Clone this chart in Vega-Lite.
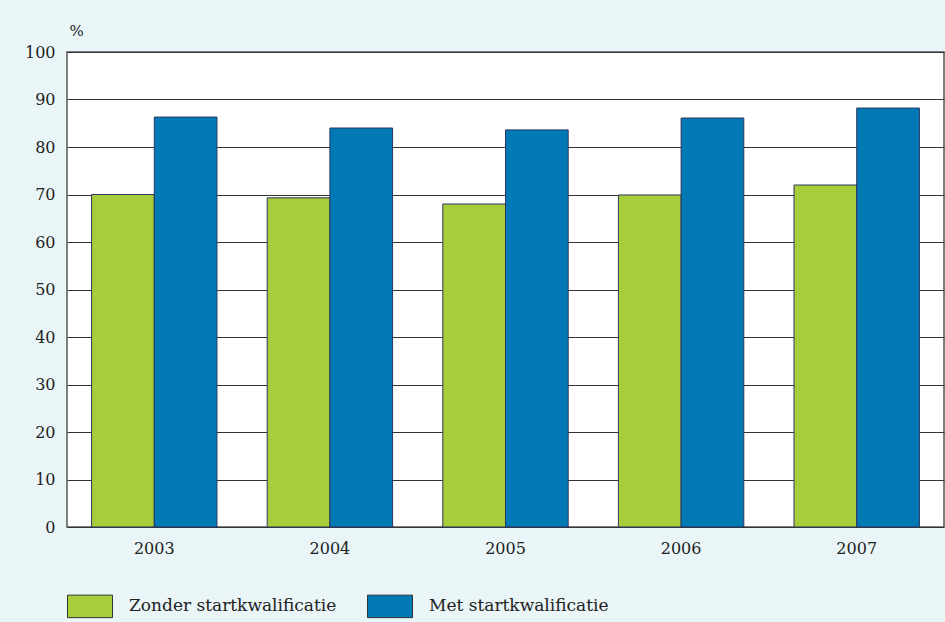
{
  "$schema": "https://vega.github.io/schema/vega-lite/v6.json",
  "autosize": {"type": "none"},
  "width": 877,
  "height": 475,
  "padding": {"left": 67, "top": 52, "right": 1, "bottom": 95},
  "background": "#e9f5f7",
  "data": {
    "values": [
      {"jaar": "2003", "groep": "Zonder startkwalificatie", "pct": 70.0},
      {"jaar": "2003", "groep": "Met startkwalificatie", "pct": 86.3},
      {"jaar": "2004", "groep": "Zonder startkwalificatie", "pct": 69.3},
      {"jaar": "2004", "groep": "Met startkwalificatie", "pct": 84.0},
      {"jaar": "2005", "groep": "Zonder startkwalificatie", "pct": 68.0},
      {"jaar": "2005", "groep": "Met startkwalificatie", "pct": 83.6},
      {"jaar": "2006", "groep": "Zonder startkwalificatie", "pct": 69.9},
      {"jaar": "2006", "groep": "Met startkwalificatie", "pct": 86.1},
      {"jaar": "2007", "groep": "Zonder startkwalificatie", "pct": 72.0},
      {"jaar": "2007", "groep": "Met startkwalificatie", "pct": 88.2}
    ]
  },
  "mark": {"type": "bar", "stroke": "#2f3560", "strokeWidth": 1},
  "encoding": {
    "x": {
      "field": "jaar", "type": "nominal",
      "scale": {"paddingInner": 0.286, "paddingOuter": 0.14},
      "axis": {"title": null, "labelAngle": 0, "ticks": false, "domain": false, "labelPadding": 13,
               "labelFont": "DejaVu Serif", "labelFontSize": 16, "labelColor": "#222"}
    },
    "xOffset": {"field": "groep", "type": "nominal", "sort": ["Zonder startkwalificatie", "Met startkwalificatie"],
                "scale": {"paddingInner": 0, "paddingOuter": 0}},
    "y": {
      "field": "pct", "type": "quantitative",
      "scale": {"domain": [0, 100], "nice": false},
      "axis": {"title": "%", "titleAngle": 0, "titleX": 2, "titleY": -22, "titleAlign": "left", "titleBaseline": "middle",
               "titleFont": "DejaVu Serif", "titleFontSize": 15, "titleFontWeight": "normal", "titleColor": "#222",
               "values": [0,10,20,30,40,50,60,70,80,90,100], "ticks": false, "domain": false, "labelPadding": 12,
               "labelFont": "DejaVu Serif", "labelFontSize": 16, "labelColor": "#222",
               "grid": true, "gridColor": "#333333", "gridWidth": 1}
    },
    "color": {
      "field": "groep", "type": "nominal",
      "sort": ["Zonder startkwalificatie", "Met startkwalificatie"],
      "scale": {"domain": ["Zonder startkwalificatie", "Met startkwalificatie"], "range": ["#a6cd3a", "#0079b5"]},
      "legend": {
        "title": null, "orient": "none", "direction": "horizontal", "legendX": 0, "legendY": 531,
        "symbolType": "M-1,-0.5H1V0.5H-1Z", "symbolSize": 2025, "symbolStrokeColor": "#333", "symbolStrokeWidth": 1,
        "symbolOpacity": 1, "labelOffset": 16, "columnPadding": 28,
        "labelFont": "DejaVu Serif", "labelFontSize": 17, "labelColor": "#222", "labelLimit": 400
      }
    }
  },
  "config": {
    "view": {"fill": "white", "stroke": "#555", "strokeWidth": 1.5}
  }
}
